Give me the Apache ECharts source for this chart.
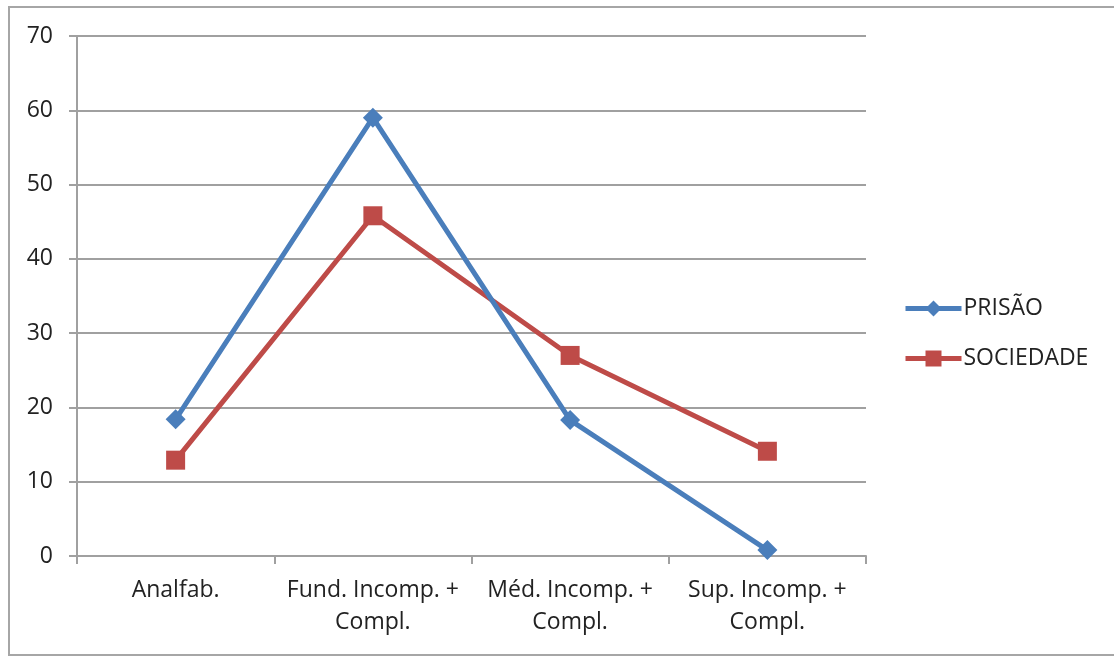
<!DOCTYPE html>
<html lang="pt-BR" style="height: 100%">
<head>
  <meta charset="utf-8">
</head>
<body style="height: 100%; margin: 0; background: #fff; overflow: hidden">
  <div style="position: absolute; left: 8px; top: 6px; width: 1120px; height: 646px; border: 2px solid #a6a6a6"></div>
  <div id="container" style="position: absolute; left: 0; top: 0; width: 1114px; height: 657px"></div>
  <script type="text/javascript" src="https://fastly.jsdelivr.net/npm/echarts@6/dist/echarts.min.js"></script>
  <script type="text/javascript">
    var categories = ['Analfab.', 'Fund. Incomp. +\nCompl.', 'Méd. Incomp. +\nCompl.', 'Sup. Incomp. +\nCompl.'];
    var prisao = [18.4, 59.0, 18.3, 0.8];
    var sociedade = [12.9, 45.8, 27.0, 14.1];

    var myChart = echarts.init(document.getElementById('container'));
    var font = 'Open Sans';

    var option =
    {
        animation: false,
        legend:
        {
            orient: 'vertical',
            left: 898,
            top: 292,
            itemWidth: 56,
            itemHeight: 20,
            itemGap: 27,
            lineStyle: { width: 5 },
            textStyle: { fontFamily: font, fontSize: 23, color: '#222', padding: [0, 0, 0, -3] },
            data: ['PRISÃO', 'SOCIEDADE']
        },
        grid:
        {
            left: 77, top: 36, right: 248, bottom: 101
        },
        xAxis:
        {
            type: 'category',
            data: categories,
            boundaryGap: true,
            axisLine: { lineStyle: { color: '#a0a0a0', width: 2 } },
            axisTick: { show: true, length: 8, lineStyle: { color: '#a0a0a0', width: 2 } },
            axisLabel:
            {
                interval: 0,
                margin: 18,
                fontFamily: font,
                fontSize: 23,
                lineHeight: 32,
                color: '#222'
            }
        },
        yAxis:
        {
            type: 'value',
            min: 0,
            max: 70,
            interval: 10,
            axisLine: { show: true, lineStyle: { color: '#a0a0a0', width: 2 } },
            axisTick: { show: true, length: 8, lineStyle: { color: '#a0a0a0', width: 2 } },
            splitLine: { lineStyle: { color: '#a0a0a0', width: 2 } },
            axisLabel: { margin: 24, fontFamily: font, fontSize: 23, color: '#222' }
        },
        series:
        [
            {
                name: 'PRISÃO',
                type: 'line',
                data: prisao,
                symbol: 'diamond',
                symbolSize: 20,
                lineStyle: { color: '#4a7ebb', width: 5 },
                itemStyle: { color: '#4a7ebb' },
                z: 3
            },
            {
                name: 'SOCIEDADE',
                type: 'line',
                data: sociedade,
                symbol: 'rect',
                symbolSize: 19,
                lineStyle: { color: '#be4b48', width: 5 },
                itemStyle: { color: '#be4b48' },
                z: 2
            }
        ]
    };
    myChart.setOption(option);
  </script>
</body>
</html>
